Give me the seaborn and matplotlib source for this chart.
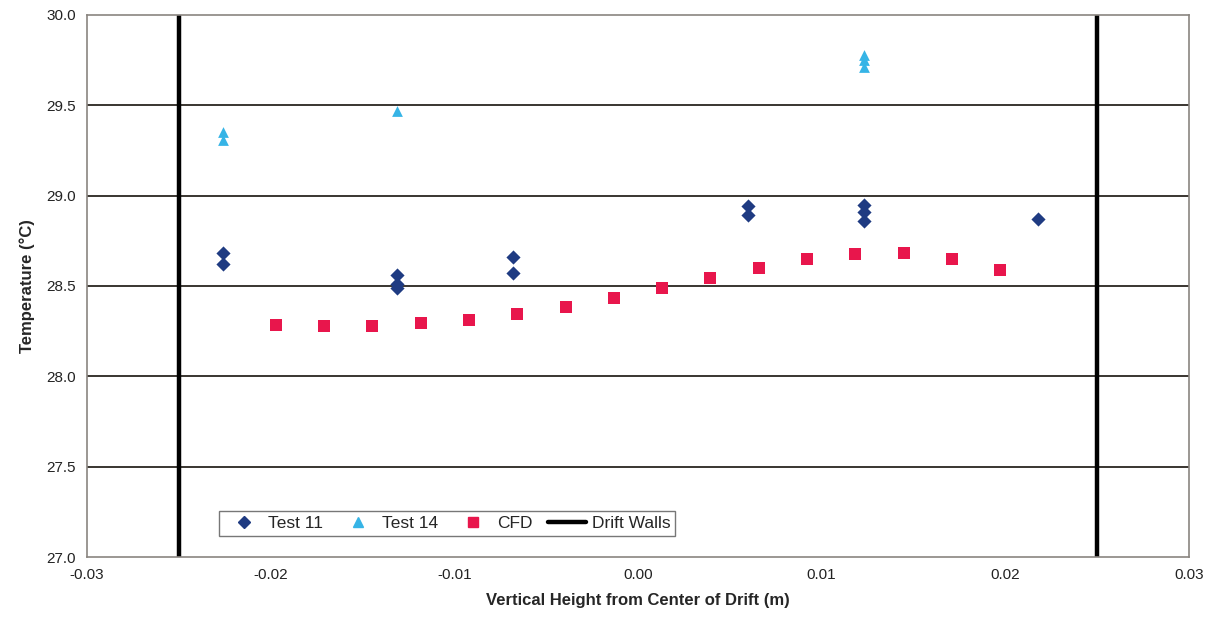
import matplotlib
matplotlib.use("Agg")
import matplotlib.pyplot as plt
import seaborn as sns
import pandas as pd
from matplotlib.lines import Line2D

# ---- data ----
test11_x = [-0.0226, -0.0226, -0.0131, -0.0131, -0.0131, -0.0068, -0.0068,
            0.0060, 0.0060, 0.0123, 0.0123, 0.0123, 0.0218]
test11_y = [28.68, 28.62, 28.56, 28.51, 28.49, 28.66, 28.57,
            28.94, 28.89, 28.95, 28.91, 28.86, 28.87]

test14_x = [-0.0226, -0.0226, -0.0131, 0.0123, 0.0123, 0.0123]
test14_y = [29.35, 29.31, 29.47, 29.78, 29.75, 29.71]

cfd_x = [-0.0197, -0.0171, -0.0145, -0.0118, -0.0092, -0.0066, -0.0039, -0.0013,
         0.0013, 0.0039, 0.0066, 0.0092, 0.0118, 0.0145, 0.0171, 0.0197]
cfd_y = [28.285, 28.280, 28.281, 28.293, 28.314, 28.343, 28.384, 28.432,
         28.487, 28.545, 28.600, 28.649, 28.677, 28.683, 28.651, 28.587]

wall_x = [-0.025, 0.025]

x_ticks = [-0.03, -0.02, -0.01, 0.00, 0.01, 0.02, 0.03]
y_ticks = [27.0, 27.5, 28.0, 28.5, 29.0, 29.5, 30.0]

c11 = "#1f3b82"
c14 = "#36b4e6"
ccfd = "#e8164c"

sns.set_theme(style="white")
plt.rcParams["font.family"] = ["Liberation Sans", "DejaVu Sans"]

fig = plt.figure(figsize=(12.05, 6.22), dpi=100)
ax = fig.add_axes([0.0722, 0.1045, 0.9145, 0.8715])

for y in y_ticks[1:-1]:
    ax.axhline(y, color="#2a2520", lw=1.3, zorder=1)

df11 = pd.DataFrame({"x": test11_x, "y": test11_y})
df14 = pd.DataFrame({"x": test14_x, "y": test14_y})
dfc = pd.DataFrame({"x": cfd_x, "y": cfd_y})

sns.scatterplot(data=df11, x="x", y="y", ax=ax, marker="D", s=52, color=c11,
                edgecolor=c11, linewidth=0, zorder=3)
sns.scatterplot(data=df14, x="x", y="y", ax=ax, marker="^", s=60, color=c14,
                edgecolor=c14, linewidth=0, zorder=3)
sns.scatterplot(data=dfc, x="x", y="y", ax=ax, marker="s", s=80, color=ccfd,
                edgecolor=ccfd, linewidth=0, zorder=3)
for wx in wall_x:
    ax.axvline(wx, color="black", lw=3.2, zorder=2)

ax.set_xlim(-0.03, 0.03)
ax.set_ylim(27.0, 30.0)
ax.set_xticks(x_ticks)
ax.set_xticklabels([f"{v:.2f}" for v in x_ticks], fontsize=11)
ax.set_yticks(y_ticks)
ax.set_yticklabels([f"{v:.1f}" for v in y_ticks], fontsize=11)
ax.tick_params(axis="both", length=0, pad=8, colors="#222222")
for sp in ax.spines.values():
    sp.set_color("#8a8580")
    sp.set_linewidth(1.2)

ax.set_xlabel("Vertical Height from Center of Drift (m)", fontsize=12,
              fontweight="bold", labelpad=8)
ax.set_ylabel("Temperature (\u00b0C)", fontsize=12, fontweight="bold", labelpad=8)

handles = [
    Line2D([], [], ls="none", marker="D", color=c11, markersize=6),
    Line2D([], [], ls="none", marker="^", color=c14, markersize=7),
    Line2D([], [], ls="none", marker="s", color=ccfd, markersize=7),
    Line2D([], [], color="black", lw=3.2),
]
labels = ["Test 11", "Test 14", "CFD", "Drift Walls"]
leg = ax.legend(handles, labels, ncol=4, loc="lower left",
                bbox_to_anchor=(0.12, 0.038), borderaxespad=0, fontsize=12.5,
                frameon=True, fancybox=False, edgecolor="#555555",
                handlelength=2.2, handletextpad=0.3, columnspacing=0.9,
                borderpad=0.3)
leg.get_frame().set_linewidth(1.0)

fig.savefig("out.png", dpi=100)
